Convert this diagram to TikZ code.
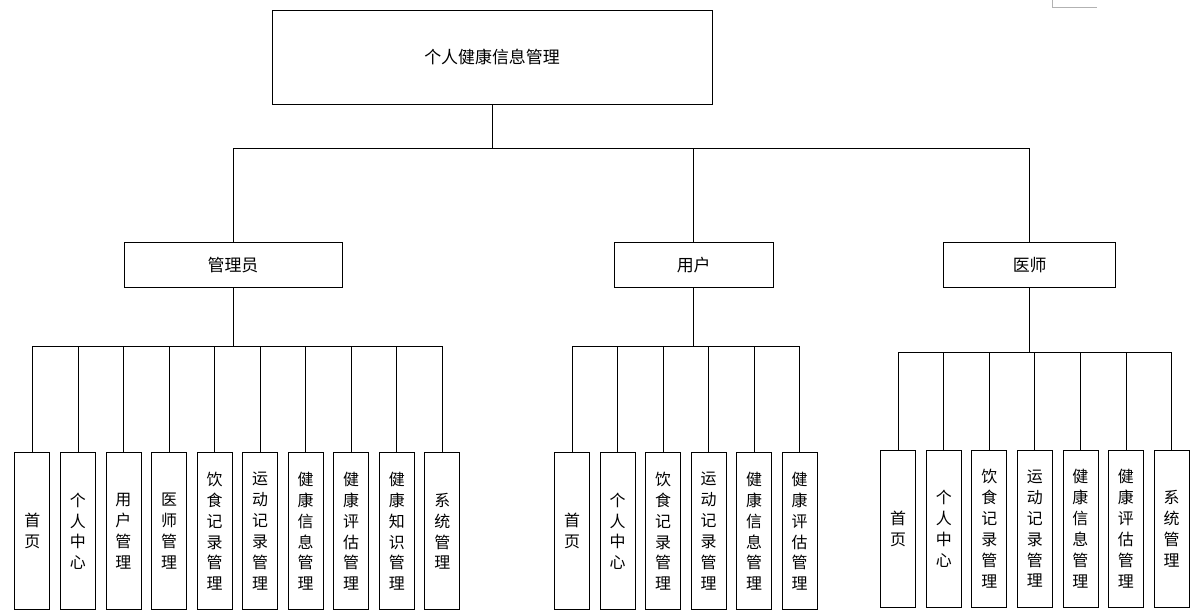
\documentclass[tikz,border=0pt]{standalone}
\usepackage{fontspec}
\setmainfont{Noto Sans CJK SC}

\begin{document}
\begin{tikzpicture}[
    x=1bp, y=-1bp,
    line width=0.8bp,
    every node/.style={font=\fontsize{16}{21}\selectfont},
    rootbox/.style={
        draw,
        inner sep=0pt,
        font=\fontsize{17}{21}\selectfont,
        minimum width=440bp,
        minimum height=94bp
    },
    rolebox/.style={
        draw,
        inner sep=0pt,
        font=\fontsize{17}{21}\selectfont,
        minimum height=44.5bp
    },
    leaf/.style={
        draw,
        align=center,
        inner sep=0pt,
        minimum width=35bp,
        minimum height=157bp
    }
]
\useasboundingbox (0,0) rectangle (1202,613);

\node[rootbox] (root) at (492,57.3) {个人健康信息管理};

\node[rolebox, minimum width=218bp] (adm) at (233,264.8) {管理员};
\node[rolebox, minimum width=159bp] (usr) at (693.7,264.8) {用户};
\node[rolebox, minimum width=172bp] (doc) at (1029.7,264.8) {医师};

% leaves of each role
\foreach \t [count=\i] in {首\\页, 个\\人\\中\\心, 用\\户\\管\\理, 医\\师\\管\\理,
    饮\\食\\记\\录\\管\\理, 运\\动\\记\\录\\管\\理, 健\\康\\信\\息\\管\\理,
    健\\康\\评\\估\\管\\理, 健\\康\\知\\识\\管\\理, 系\\统\\管\\理}
    \node[leaf] (adm\i) at ({32.35+45.55*(\i-1)},531.3) {\t};

\foreach \t [count=\i] in {首\\页, 个\\人\\中\\心, 饮\\食\\记\\录\\管\\理,
    运\\动\\记\\录\\管\\理, 健\\康\\信\\息\\管\\理, 健\\康\\评\\估\\管\\理}
    \node[leaf] (usr\i) at ({572.2+45.5*(\i-1)},531.3) {\t};

\foreach \t [count=\i] in {首\\页, 个\\人\\中\\心, 饮\\食\\记\\录\\管\\理,
    运\\动\\记\\录\\管\\理, 健\\康\\信\\息\\管\\理, 健\\康\\评\\估\\管\\理, 系\\统\\管\\理}
    \node[leaf] (doc\i) at ({898.2+45.55*(\i-1)},528.8) {\t};

% connectors
\foreach \r in {adm,usr,doc}
    \draw (root.south) -- ++(0,43.7) -| (\r.north);
\foreach \i in {1,...,10}
    \draw (adm.south) -- ++(0,58.7) -| (adm\i.north);
\foreach \i in {1,...,6}
    \draw (usr.south) -- ++(0,58.7) -| (usr\i.north);
\foreach \i in {1,...,7}
    \draw (doc.south) -- ++(0,64.7) -| (doc\i.north);

\draw[gray!60, line width=0.7bp] (1052.5,0) |- (1097,7);

\end{tikzpicture}
\end{document}
